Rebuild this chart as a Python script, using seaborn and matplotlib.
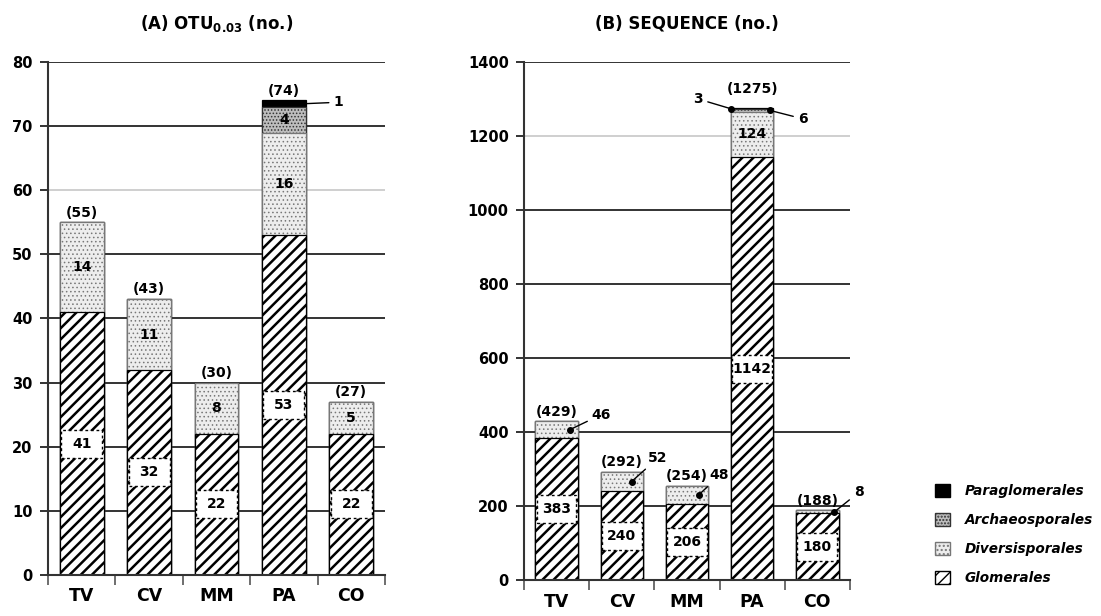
import numpy as np
import pandas as pd
import matplotlib.pyplot as plt
import seaborn as sns
from matplotlib.patches import Patch, Rectangle

# site categories and AMF orders (bottom -> top of each stack)
sites = ["TV", "CV", "MM", "PA", "CO"]
orders = ["Glomerales", "Diversisporales", "Archaeosporales", "Paraglomerales"]

# (A) OTU counts per order
otu_glo = [41, 32, 22, 53, 22]
otu_div = [14, 11, 8, 16, 5]
otu_arc = [0, 0, 0, 4, 0]
otu_par = [0, 0, 0, 1, 0]

# (B) sequence counts per order
seq_glo = [383, 240, 206, 1142, 180]
seq_div = [46, 52, 48, 124, 8]
seq_arc = [0, 0, 0, 6, 0]
seq_par = [0, 0, 0, 3, 0]

sns.set_theme(style="white")
plt.rcParams["font.family"] = ["DejaVu Sans"]
plt.rcParams["text.color"] = "black"
plt.rcParams["xtick.color"] = "black"
plt.rcParams["ytick.color"] = "black"
plt.rcParams["axes.labelcolor"] = "black"

STYLE = {
    "Glomerales": dict(fc="white", ec="black", hatch="///", hlw=1.8),
    "Diversisporales": dict(fc="#ededed", ec="#777777", hatch="....", hlw=0.6),
    "Archaeosporales": dict(fc="#bdbdbd", ec="#333333", hatch=".....", hlw=0.7),
    "Paraglomerales": dict(fc="black", ec="black", hatch="", hlw=1.0),
}
BAR_W = 0.65
LBL = 10  # size of in-bar numbers


def stacked(ax, layers):
    cum = np.cumsum(np.array(layers), axis=0)
    # draw cumulative totals top-down, each layer painted over the one above
    for k in reversed(range(len(orders))):
        df = pd.DataFrame({"site": sites, "h": cum[k]})
        st = STYLE[orders[k]]
        with plt.rc_context({"hatch.linewidth": st["hlw"]}):
            sns.barplot(data=df, x="site", y="h", ax=ax, width=BAR_W, color=st["fc"],
                        edgecolor=st["ec"], hatch=st["hatch"], linewidth=0.9,
                        saturation=1, errorbar=None)
    return cum


def style_axes(ax, ymax, step, light):
    ax.set_ylim(0, ymax)
    ax.set_xlim(-0.5, 4.5)
    ax.set_yticks(np.arange(0, ymax + 1, step))
    ax.set_xlabel("")
    ax.set_ylabel("")
    ax.set_axisbelow(True)
    ax.grid(axis="y", color="#333333", lw=1.4)
    for line, val in zip(ax.yaxis.get_gridlines(), ax.get_yticks()):
        if val == light:
            line.set_color("#cfcfcf")
    for s in ["top", "right"]:
        ax.spines[s].set_visible(False)
    for s in ["left", "bottom"]:
        ax.spines[s].set_color("#333333")
        ax.spines[s].set_linewidth(1.5)
    ax.tick_params(axis="y", left=True, length=6, width=1.4, color="#333333",
                   labelsize=10.5, pad=5)
    ax.tick_params(axis="x", which="major", length=0, labelsize=12.5, pad=9)
    ax.set_xticks(np.arange(-0.5, 5, 1), minor=True)
    ax.tick_params(axis="x", which="minor", bottom=True, length=7, width=1.2, color="#555555")
    for lab in ax.get_yticklabels() + ax.get_xticklabels():
        lab.set_fontweight("bold")


def boxed_labels(ax, vals, ymax):
    # white dashed box across the bar, about 28 px tall
    h = 28 / ax.get_window_extent().height * ymax
    for i, v in enumerate(vals):
        ax.add_patch(Rectangle((i - BAR_W / 2 + 0.02, v / 2 - h / 2), BAR_W - 0.04, h,
                               fc="white", ec="black", lw=1.0, ls=(0, (2, 2)), zorder=3))
        ax.text(i, v / 2, str(v), ha="center", va="center", fontsize=LBL,
                fontweight="bold", zorder=4)


def totals(ax, cum, extra):
    for i, t in enumerate(cum[-1]):
        ax.annotate(f"({t})", (i, t), xytext=(0, 2 + extra.get(i, 0)), textcoords="offset points",
                    ha="center", va="bottom", fontsize=LBL, fontweight="bold")


def callout(ax, x, y, txt, off, dot=True):
    ax.annotate(txt, (x, y), xytext=off, textcoords="offset points",
                ha="left" if off[0] > 0 else "right", va="center",
                fontsize=LBL, fontweight="bold",
                arrowprops=dict(arrowstyle="-", color="black", lw=1.0, shrinkA=1, shrinkB=0))
    if dot:
        ax.plot([x], [y], "o", color="black", ms=4)


fig = plt.figure(figsize=(11.01, 6.16), dpi=100)
axA = fig.add_axes([0.0436, 0.0666, 0.3060, 0.8328])
axB = fig.add_axes([0.4759, 0.0584, 0.2961, 0.8410])

# ---- (A) OTU
cumA = stacked(axA, [otu_glo, otu_div, otu_arc, otu_par])
style_axes(axA, 80, 10, 60)
axA.set_title("(A) OTU$\\mathbf{_{0.03}}$ (no.)", fontsize=12, fontweight="bold", pad=24)
boxed_labels(axA, otu_glo, 80)
for i in range(5):
    axA.text(i, cumA[0][i] + otu_div[i] / 2, str(otu_div[i]), ha="center", va="center",
             fontsize=LBL, fontweight="bold")
axA.text(3, cumA[1][3] + otu_arc[3] / 2, str(otu_arc[3]), ha="center", va="center",
         fontsize=LBL, fontweight="bold")
callout(axA, 3 + BAR_W / 2, cumA[2][3] + otu_par[3] / 2, str(otu_par[3]), (20, 1), dot=False)
totals(axA, cumA, {})

# ---- (B) SEQUENCE
cumB = stacked(axB, [seq_glo, seq_div, seq_arc, seq_par])
style_axes(axB, 1400, 200, 1200)
axB.set_title("(B) SEQUENCE (no.)", fontsize=12, fontweight="bold", pad=24)
boxed_labels(axB, seq_glo, 1400)
axB.text(3, cumB[0][3] + seq_div[3] / 2, str(seq_div[3]), ha="center", va="center",
         fontsize=LBL, fontweight="bold")
div_off = {0: (0.2, (16, 11)), 1: (0.15, (12, 17)), 2: (0.18, (8, 14)), 4: (0.26, (14, 14))}
for i, (dx, off) in div_off.items():
    callout(axB, i + dx, cumB[0][i] + seq_div[i] / 2, str(seq_div[i]), off)
callout(axB, 3 - BAR_W / 2, cumB[2][3] + seq_par[3] / 2, str(seq_par[3]), (-20, 7))
callout(axB, 3 + BAR_W / 2 - 0.05, cumB[1][3] + seq_arc[3] / 2, str(seq_arc[3]), (20, -6))
totals(axB, cumB, {3: 7})

# ---- legend
handles = []
for name in reversed(orders):
    st = STYLE[name]
    handles.append(Patch(facecolor=st["fc"], edgecolor=st["ec"] if name != "Glomerales" else "black",
                         hatch=st["hatch"], label=name))
leg = fig.legend(handles=handles, loc="lower left", bbox_to_anchor=(0.838, 0.03),
                 frameon=False, handlelength=1.1, handleheight=1.1, labelspacing=1.1,
                 handletextpad=1.1, prop=dict(size=9.8, weight="bold", style="italic"))

fig.savefig("out.png", dpi=100)
